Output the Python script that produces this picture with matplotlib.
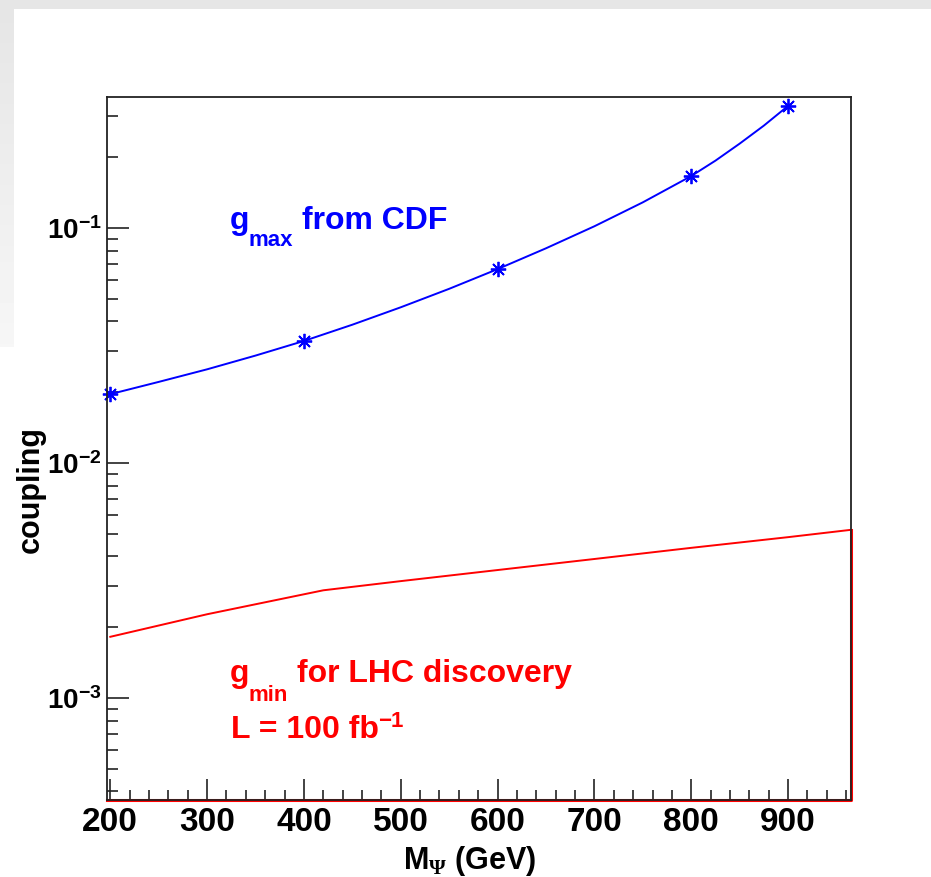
import numpy as np
import matplotlib
matplotlib.use('Agg')
import matplotlib.pyplot as plt
from matplotlib.patches import Rectangle
from matplotlib.ticker import MultipleLocator, LogLocator, NullFormatter

plt.rcParams['font.family'] = 'Liberation Sans'
plt.rcParams['font.weight'] = 'bold'
plt.rcParams['mathtext.fontset'] = 'custom'
plt.rcParams['mathtext.rm'] = 'Liberation Sans:bold'
plt.rcParams['mathtext.bf'] = 'Liberation Sans:bold'
plt.rcParams['mathtext.sf'] = 'Liberation Serif'

# CDF upper bound: measured points and the smooth curve drawn through them
mass_cdf = [200, 400, 600, 800, 900]
gmax_cdf = [0.0196, 0.0330, 0.0667, 0.166, 0.330]
mass_cdf_line = [200, 250, 300, 350, 400, 450, 500, 550, 600,
                 650, 700, 750, 800, 825, 850, 875, 900]
gmax_cdf_line = [0.0196, 0.0221, 0.0250, 0.0286, 0.0330, 0.0387, 0.0459, 0.0550, 0.0667,
                 0.0818, 0.1015, 0.1283, 0.166, 0.193, 0.228, 0.272, 0.330]

# LHC discovery reach (L = 100 fb^-1)
mass_lhc = [200, 300, 400, 420, 500, 600, 700, 800, 900, 965]
gmin_lhc = [0.00182, 0.00227, 0.00276, 0.00287, 0.00314, 0.00350,
            0.00390, 0.00435, 0.00483, 0.00519]

xticks = [200, 300, 400, 500, 600, 700, 800, 900]
yticks = [1e-3, 1e-2, 1e-1]
ytick_labels = [r'$\mathbf{10^{-3}}$', r'$\mathbf{10^{-2}}$', r'$\mathbf{10^{-1}}$']

W, H = 931, 877
fig = plt.figure(figsize=(W / 100, H / 100), dpi=100)

# screenshot border (grey band on top, fading strip on the left)
fig.add_artist(Rectangle((0, 1 - 9 / H), 1, 9 / H, transform=fig.transFigure,
                         facecolor='#e6e6e6', edgecolor='none', zorder=0))
gax = fig.add_axes([0, 1 - 347 / H, 14 / W, 338 / H])
gax.imshow(np.linspace(0.90, 0.965, 100)[:, None], aspect='auto', cmap='gray',
           vmin=0, vmax=1)
gax.axis('off')

ax = fig.add_axes([107 / W, 77 / H, 744 / W, 703 / H])
ax.set_yscale('log')
ax.set_xlim(196.6, 965)
ax.set_ylim(3.68e-4, 0.36)

ax.plot(mass_cdf_line, gmax_cdf_line, color='blue', lw=1.4, zorder=3)
ax.plot(mass_cdf, gmax_cdf, ls='none', marker=(8, 2, 0), ms=11, mew=1.3,
        color='blue', zorder=4, clip_on=False)

ax.plot(mass_lhc, gmin_lhc, color='red', lw=1.4, zorder=3)
# histogram-like closing outline along the right and bottom frame
x0, x1 = ax.get_xlim()
y0, y1 = ax.get_ylim()
ax.plot([mass_lhc[-1], x1, x1, x0], [gmin_lhc[-1], gmin_lhc[-1], y0, y0],
        color='red', lw=2.2, zorder=2, clip_on=False)

for side in ['left', 'bottom', 'top', 'right']:
    ax.spines[side].set_linewidth(1.3)
    ax.spines[side].set_color('#222222')
    ax.spines[side].set_zorder(5)

ax.set_xticks(xticks)
ax.set_xticklabels([str(v) for v in xticks])
ax.xaxis.set_minor_locator(MultipleLocator(20))
ax.set_yticks(yticks)
ax.set_yticklabels(ytick_labels)
ax.yaxis.set_minor_locator(LogLocator(base=10, subs=np.arange(2, 10)))
ax.yaxis.set_minor_formatter(NullFormatter())

ax.tick_params(which='both', direction='in', top=False, right=False,
               width=1.2, color='#222222')
ax.tick_params(axis='x', which='major', length=15, pad=5, labelsize=24)
ax.tick_params(axis='x', which='minor', length=7.5)
ax.tick_params(axis='y', which='major', length=16, pad=4, labelsize=20)
ax.tick_params(axis='y', which='minor', length=8)

ax.set_xlabel(r'M$_{\mathsf{\Psi}}$ (GeV)', fontsize=22, fontweight='bold')
ax.xaxis.set_label_coords(0.488, -0.062)
ax.set_ylabel('coupling', fontsize=22, fontweight='bold')
ax.yaxis.set_label_coords(-0.082, 0.441)

# annotations
fig.text(230 / W, 1 - 229 / H, 'g', color='blue', fontsize=23, va='baseline')
fig.text(249 / W, 1 - 246 / H, 'max', color='blue', fontsize=16, va='baseline')
fig.text(302 / W, 1 - 229 / H, 'from CDF', color='blue', fontsize=23, va='baseline')

fig.text(230 / W, 1 - 682 / H, 'g', color='red', fontsize=23, va='baseline')
fig.text(249 / W, 1 - 701 / H, 'min', color='red', fontsize=16, va='baseline')
fig.text(297 / W, 1 - 682 / H, 'for LHC discovery', color='red', fontsize=23,
         va='baseline')
fig.text(231 / W, 1 - 738 / H, 'L = 100 fb', color='red', fontsize=23,
         va='baseline')
fig.text(378 / W, 1 - 727 / H, '\u22121', color='red', fontsize=16, va='baseline')

fig.savefig('out.png', dpi=100)
